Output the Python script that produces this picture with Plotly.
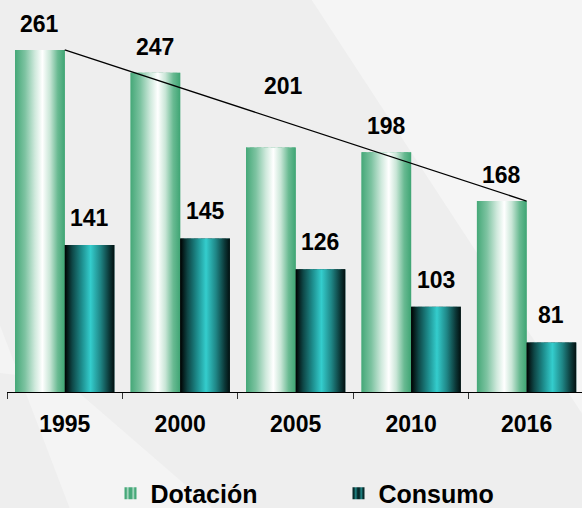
import plotly.graph_objects as go

## data
years = ["1995", "2000", "2005", "2010", "2016"]
dotacion = [261, 247, 201, 198, 168]
consumo = [141, 145, 126, 103, 81]
series_names = ["Dotación", "Consumo"]

# %%
## styling
FONT = "Liberation Sans, Arial, sans-serif"
W = 0.43  # bar width (category units)
Y0 = 50.5  # axis starts above zero in the original
green_scale = [[0, "#45A878"], [0.2, "#7DC3A1"], [0.4, "#CFE9DC"], [0.55, "#FFFFFF"],
               [0.7, "#C9E6D7"], [0.86, "#69BA92"], [1, "#3FA574"]]
teal_scale = [[0, "#000000"], [0.15, "#0E4646"], [0.35, "#1E9090"], [0.52, "#34CDCD"],
              [0.72, "#1F8686"], [0.9, "#0B3636"], [1, "#021010"]]

x = list(range(len(years)))
fig = go.Figure()

# %%
## real bars (legend + positions), gradients are laid on top of them
fig.add_trace(go.Bar(x=x, y=dotacion, base=0, width=W, offset=-W, name=series_names[0],
                     marker=dict(color="#5DB68B", line_width=0,
                                 pattern=dict(shape="|", fgcolor="#FFFFFF", bgcolor="#45A878",
                                              size=7, solidity=0.35))))
fig.add_trace(go.Bar(x=x, y=consumo, base=0, width=W, offset=0, name=series_names[1],
                     marker=dict(color="#168080", line_width=0,
                                 pattern=dict(shape="|", fgcolor="#34CDCD", bgcolor="#062A2A",
                                              size=7, solidity=0.4))))

# horizontal gradient fill per bar
for vals, off, scale in [(dotacion, -W, green_scale), (consumo, 0, teal_scale)]:
    for i, v in zip(x, vals):
        x0, x1 = i + off, i + off + W
        fig.add_trace(go.Scatter(
            x=[x0, x1, x1, x0, x0], y=[0, 0, v, v, 0], mode="lines", fill="toself",
            line=dict(width=0), fillgradient=dict(type="horizontal", colorscale=scale),
            showlegend=False, hoverinfo="skip"))

# %%
## trend line from first to last Dotación bar (right top corner)
fig.add_trace(go.Scatter(x=[x[0], x[-1]], y=[dotacion[0], dotacion[-1]], mode="lines",
                         line=dict(color="#000000", width=1.3), showlegend=False,
                         hoverinfo="skip"))

# %%
## value labels
shift = {2: (13, 35)}  # 2005 dotación label is nudged off the trend line
for i, v in zip(x, dotacion):
    dx, dy = shift.get(i, (0, 0))
    fig.add_annotation(x=i - W / 2, y=v, text=str(v), showarrow=False,
                       yshift=26 + dy, xshift=dx, yanchor="middle")
for i, v in zip(x, consumo):
    fig.add_annotation(x=i + W / 2, y=v, text=str(v), showarrow=False,
                       yshift=27, yanchor="middle")

# %%
## background, faint diagonal panels
fig.add_shape(type="path", xref="paper", yref="paper", layer="below", line_width=0,
              fillcolor="#F5F5F5",
              path="M 0.53 1 L 1.02 1 L 1.02 -0.1 Z")
fig.add_shape(type="path", xref="paper", yref="paper", layer="below", line_width=0,
              fillcolor="#F4F4F4",
              path="M -0.02 0.2 L 0.11 -0.3 L 0.36 -0.3 L 0.1 0.03 L -0.02 0.05 Z")

# %%
## layout
fig.update_layout(
    width=582, height=508,
    margin=dict(l=7, r=0, t=0, b=116, autoexpand=False),
    paper_bgcolor="#EEEEEE", plot_bgcolor="rgba(0,0,0,0)",
    font=dict(family=FONT, size=23, color="#000000", weight="bold"),
    barmode="overlay",
    legend=dict(orientation="h", x=0.18, xanchor="left", y=-0.2, yanchor="top",
                font=dict(size=25), entrywidth=183, bgcolor="rgba(0,0,0,0)",
                itemclick=False),
    hovermode=False,
)
fig.update_xaxes(range=[-0.5, 4.48], tickmode="array", tickvals=x, ticktext=years,
                 ticks="outside", ticklen=0, ticklabelstandoff=11,
                 showline=True, linecolor="#000000", linewidth=1.3, showgrid=False,
                 zeroline=False,
                 minor=dict(tickmode="linear", tick0=-0.5, dtick=1, ticks="outside",
                            ticklen=6, tickcolor="#333333", tickwidth=1, showgrid=False))
fig.update_yaxes(range=[Y0, Y0 + 392 / 1.625], visible=False, showgrid=False)

# page has a default 8px body margin; drop it so the figure fills the window
fig.write_html("out.html", config={"displayModeBar": False},
               post_script="document.body.style.margin='0';")
